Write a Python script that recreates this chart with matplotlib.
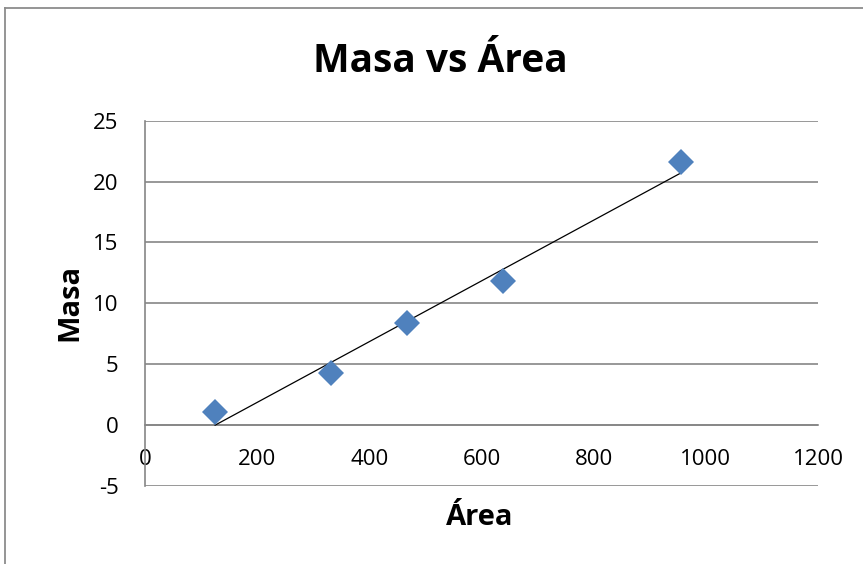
import numpy as np
import matplotlib
matplotlib.use("Agg")
import matplotlib.pyplot as plt
from matplotlib.lines import Line2D

# data
area = [125, 332, 467, 638, 956]
masa = [1.09, 4.32, 8.38, 11.8, 21.6]
x_ticks = [0, 200, 400, 600, 800, 1000, 1200]
y_ticks = [-5, 0, 5, 10, 15, 20, 25]

plt.rcParams['font.family'] = ['Open Sans', 'DejaVu Sans']
plt.rcParams['axes.unicode_minus'] = False
grid_col = '#868686'

W, H = 863, 564
fig = plt.figure(figsize=(W / 100, H / 100), dpi=100)
ax = fig.add_axes([145 / W, 1 - 486 / H, (818 - 145) / W, (486 - 120.7) / H])

# linear trendline
slope, icpt = np.polyfit(area, masa, 1)
xs = np.array([min(area), max(area)])
ax.plot(xs, slope * xs + icpt, color='black', lw=0.9, zorder=3)

ax.plot(area, masa, linestyle='none', marker='D', markersize=13,
        color='#4F81BD', markeredgewidth=0, zorder=4)

ax.set_xlim(0, 1200)
ax.set_ylim(-5, 25)
ax.set_xticks(x_ticks)
ax.set_yticks(y_ticks)
ax.tick_params(axis='both', length=0, labelsize=16)
ax.tick_params(axis='x', pad=17)
ax.tick_params(axis='y', pad=19)

ax.grid(axis='y', color=grid_col, lw=1.2)
ax.set_axisbelow(True)
ax.spines['top'].set_visible(False)
ax.spines['right'].set_visible(False)
ax.spines['left'].set_color(grid_col)
ax.spines['left'].set_linewidth(1.2)
ax.spines['bottom'].set_position(('data', 0))
ax.spines['bottom'].set_color(grid_col)
ax.spines['bottom'].set_linewidth(1.2)

# titles as figure text
fig.text(440 / W, 1 - 72 / H, 'Masa vs Área', ha='center', va='baseline',
         fontsize=28, fontweight='bold')
fig.text(480 / W, 1 - 525 / H, 'Área', ha='center', va='baseline',
         fontsize=21, fontweight='bold')
fig.text(77 / W, 1 - 302 / H, 'Masa', rotation=90, rotation_mode='anchor',
         ha='center', va='baseline', fontsize=21, fontweight='bold')

# chart area border (cut off at right and bottom)
fig.add_artist(Line2D([5 / W, 5 / W], [0, 1 - 8 / H], color='#8c8c8c', lw=1.3))
fig.add_artist(Line2D([5 / W, 1], [1 - 8 / H, 1 - 8 / H], color='#8c8c8c', lw=1.3))

fig.savefig('out.png', dpi=100)
